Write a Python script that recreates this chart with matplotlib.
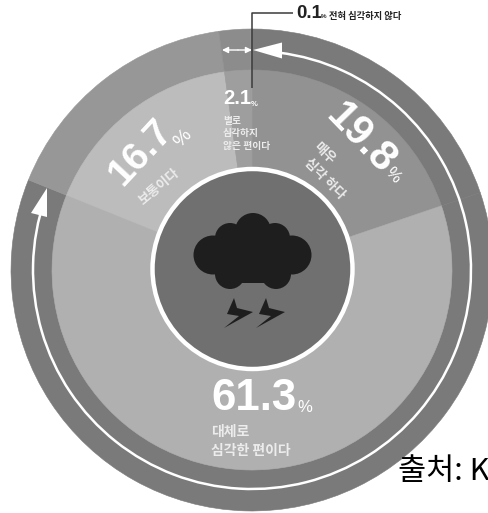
import matplotlib
matplotlib.use("Agg")
import matplotlib.pyplot as plt
from matplotlib.patches import Circle, Polygon, Arc, Rectangle

W, H = 488, 513
CX, CY = 252, 270
R_OUT, R_IN, R_CORE = 241, 200, 100

# Data (clockwise from 12 o'clock)
categories = ["매우 심각 하다", "대체로 심각한 편이다", "보통이다", "별로 심각하지 않은 편이다", "전혀 심각하지 않다"]
shares = [19.8, 61.3, 16.7, 2.1, 0.1]
inner_colors = ["#929292", "#b0b0b0", "#bcbcbc", "#9e9e9e", "#9e9e9e"]
outer_colors = ["#7a7a7a", "#7a7a7a", "#979797", "#8c8c8c", "#8c8c8c"]

KR = ["Noto Sans CJK KR", "DejaVu Sans"]
NUM = "Liberation Sans"

fig = plt.figure(figsize=(W / 100, H / 100), dpi=100, facecolor="white")
ax = fig.add_axes([0, 0, 1, 1])

def Y(py):
    return H - py

for radius, colors in ((R_OUT, outer_colors), (R_IN, inner_colors)):
    wedges, _ = ax.pie(shares, colors=colors, radius=radius, center=(CX, Y(CY)), startangle=90,
                       counterclock=False)
    for w in wedges:
        w.set_edgecolor(w.get_facecolor())
        w.set_linewidth(0.4)
ax.set_xlim(0, W)
ax.set_ylim(0, H)
ax.set_aspect("equal")
ax.axis("off")

# Centre disc
ax.add_patch(Circle((252.5, Y(269)), R_CORE, facecolor="#707070", edgecolor="white", linewidth=3.2, zorder=3))

# Cloud
cloud = "#1e1e1e"
for x, y, r in [(253, 231, 18), (213, 255, 19.5), (292, 255, 19.5), (230, 238, 15),
                (275, 238, 15), (230, 274, 15), (276, 274, 15)]:
    ax.add_patch(Circle((x, Y(y)), r, facecolor=cloud, edgecolor="none", zorder=4))
ax.add_patch(Rectangle((228, Y(283)), 50, 50, facecolor=cloud, edgecolor="none", zorder=4))
ax.add_patch(Rectangle((212, Y(268)), 82, 30, facecolor=cloud, edgecolor="none", zorder=4))

# Lightning bolts
bolt = [(234, 298), (237, 308), (253, 312), (224, 328), (239, 316), (227, 314)]
for dx in (0, 32):
    ax.add_patch(Polygon([(x + dx, Y(y)) for x, y in bolt], closed=True, facecolor=cloud,
                         edgecolor="none", zorder=4))

# White ring arrow
ax.add_patch(Arc((CX, Y(CY)), 438, 438, theta1=-199, theta2=83, color="white", linewidth=1.8, zorder=5))
ax.add_patch(Polygon([(253, Y(50)), (282, Y(42.5)), (282, Y(58.5))], closed=True, facecolor="white",
                     edgecolor="none", zorder=5))
ax.add_patch(Polygon([(47, Y(188)), (31, Y(213)), (47, Y(217))], closed=True, facecolor="white",
                     edgecolor="none", zorder=5))

# Small double arrow
for tip in (222, 252):
    ax.annotate("", xy=(tip, Y(50)), xytext=(238, Y(50)),
                arrowprops=dict(arrowstyle="-|>", color="white", lw=1, shrinkA=0, shrinkB=0, mutation_scale=9),
                zorder=5)

# Leader line
ax.plot([293, 252, 252], [Y(13), Y(13), Y(88)], color="#3a3a3a", lw=1.1, zorder=6, solid_capstyle="butt")

def num(x, y, s, size, rot=0, color="white", ha="center", weight="bold"):
    ax.text(x, Y(y), s, fontsize=size, rotation=rot, rotation_mode="anchor", ha=ha, va="center",
            family=NUM, weight=weight, color=color, zorder=7)

def kr(x, y, s, size, rot=0, color="#ececec", ha="center", weight="bold"):
    ax.text(x, Y(y), s, fontsize=size, rotation=rot, rotation_mode="anchor", ha=ha, va="center",
            family=KR, weight=weight, color=color, zorder=7)

# 19.8
num(360, 139, "19.8", 30, rot=-46)
num(393, 175, "%", 12, rot=-46, weight="normal")
kr(324, 153, "매우", 9.5, rot=-45)
kr(325, 179, "심각 하다", 9.5, rot=-45)

# 16.7
num(141, 153, "16.7", 28, rot=47)
num(183, 139, "%", 14, rot=47, weight="normal")
kr(159, 187, "보통이다", 9.5, rot=40)

# 2.1
num(223, 99, "2.1", 14.5, ha="left")
num(254, 104, "%", 5.5)
kr(223, 121, "별로", 7, ha="left")
kr(223, 133, "심각하지", 7, ha="left")
kr(223, 146, "않은 편이다", 7, ha="left")

# 61.3
num(211, 398, "61.3", 31.5, ha="left")
num(297, 408, "%", 12, ha="left", weight="normal")
kr(211, 432, "대체로", 10, ha="left")
kr(211, 451, "심각한 편이다", 10, ha="left")

# 0.1 callout
num(296, 14, "0.1", 13.5, ha="left", color="#222222")
num(321, 17, "%", 4.5, ha="left", color="#222222")
kr(329, 16, "전혀 심각하지 않다", 6.7, ha="left", color="#222222")

# Source
ax.text(398, Y(472), "출처: K", fontsize=22, family=KR, color="black", ha="left", va="center", zorder=8)

fig.savefig("out.png", dpi=100, facecolor="white")
